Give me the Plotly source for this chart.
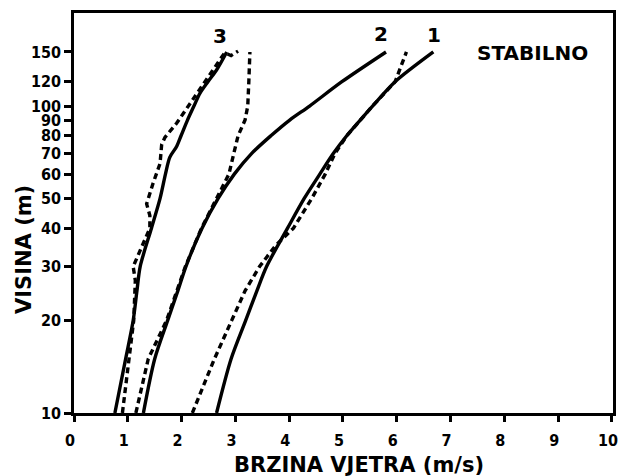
import plotly.graph_objects as go

# ---- data (wind speed m/s at height m) ----
h_std = [10, 15, 20, 25, 30, 40, 50, 60, 70, 80, 90, 100, 120, 150]

solid1 = [2.65, 2.92, 3.19, 3.40, 3.58, 3.97, 4.28, 4.57, 4.82, 5.07, 5.32, 5.55, 5.97, 6.68]
dash1_h = [10, 15, 20, 25, 30, 35, 40, 50, 60, 70, 80, 90, 100, 120, 150]
dash1 = [2.20, 2.61, 2.93, 3.18, 3.45, 3.74, 4.08, 4.42, 4.67, 4.85, 5.07, 5.32, 5.55, 5.97, 6.18]

solid2 = [1.29, 1.50, 1.74, 1.93, 2.08, 2.38, 2.68, 2.98, 3.30, 3.66, 4.01, 4.38, 4.98, 5.80]
dash2_h = [10, 15, 20, 25, 30, 40, 50, 60, 70, 80, 90, 100, 120, 150]
dash2 = [1.15, 1.38, 1.72, 1.92, 2.07, 2.37, 2.65, 2.88, 2.97, 3.05, 3.18, 3.23, 3.25, 3.27]

solid3_h = [10, 15, 20, 25, 30, 40, 50, 60, 68, 74, 80, 90, 100, 110, 120, 131, 150]
solid3 = [0.76, 0.96, 1.10, 1.17, 1.23, 1.44, 1.60, 1.70, 1.78, 1.91, 1.99, 2.11, 2.23, 2.34, 2.49, 2.65, 2.84]
dash3_h = [10, 15, 20, 27, 30, 32, 35, 40, 44, 48, 56, 65, 75, 79, 88, 102, 122, 140, 149, 146, 151]
dash3 = [0.90, 1.02, 1.11, 1.14, 1.10, 1.17, 1.27, 1.41, 1.41, 1.35, 1.47, 1.60, 1.63, 1.69, 1.91, 2.16, 2.47, 2.70, 2.80, 2.92, 3.05]

x_ticks = [0, 1, 2, 3, 4, 5, 6, 7, 8, 9, 10]
y_ticks = [10, 20, 30, 40, 50, 60, 70, 80, 90, 100, 120, 150]

LW = 3.4
fig = go.Figure()
for xs, ys in [(solid1, h_std), (solid2, h_std), (solid3, solid3_h)]:
    fig.add_trace(go.Scatter(x=xs, y=ys, mode="lines",
                             line=dict(color="black", width=LW, shape="spline", smoothing=0.8),
                             showlegend=False, hoverinfo="skip"))
for xs, ys in [(dash1, dash1_h), (dash2, dash2_h), (dash3, dash3_h)]:
    fig.add_trace(go.Scatter(x=xs, y=ys, mode="lines",
                             line=dict(color="black", width=LW, dash="6px,4px"),
                             showlegend=False, hoverinfo="skip"))

xfont = dict(family="DejaVu Sans Condensed", size=16, color="black", weight="bold")
yfont = dict(family="DejaVu Sans Condensed", size=16, color="black", weight="bold")
fig.update_xaxes(range=[0, 10.02], tickvals=x_ticks, ticktext=[str(v) for v in x_ticks],
                 showgrid=False, zeroline=False, showline=True, linecolor="black", linewidth=2.5,
                 mirror=True, ticks="outside", ticklen=6, tickwidth=2.5, tickcolor="black",
                 tickfont=xfont, automargin=False, ticklabeloverflow="allow", ticklabelstandoff=5,
                 ticklabelshift=-4)
fig.update_yaxes(type="log", range=[1, 2.303], tickvals=y_ticks, ticktext=[str(v) for v in y_ticks],
                 showgrid=False, zeroline=False, showline=True, linecolor="black", linewidth=2.5,
                 mirror=True, ticks="outside", ticklen=7, tickwidth=2.5, tickcolor="black",
                 tickfont=yfont, automargin=False, ticklabeloverflow="allow")

W, H = 618, 476
pl, pr, pt, pb = 74, W - 5, 13, H - 63

afont = dict(family="DejaVu Sans", size=20, color="black", weight="bold")
tifont = dict(family="DejaVu Sans", size=21, color="black", weight="bold")
anns = [
    ("BRZINA VJETRA (m/s)", 359, 465, 0, tifont),
    ("VISINA (m)", 24, 250, -90, tifont),
    ("1", 434, 35, 0, afont),
    ("2", 381, 34, 0, afont),
    ("3", 220, 36, 0, afont),
    ("STABILNO", 532, 53, 0, dict(family="DejaVu Sans", size=20, color="black", weight="bold")),
]
for text, px, py, ang, f in anns:
    fig.add_annotation(text=text, x=(px - pl) / (pr - pl), y=(pb - py) / (pb - pt),
                       xref="paper", yref="paper", xanchor="center", yanchor="middle",
                       showarrow=False, font=f, textangle=ang)

fig.update_layout(width=W, height=H, margin=dict(l=pl, r=W - pr, t=pt, b=H - pb, autoexpand=False),
                  plot_bgcolor="white", paper_bgcolor="white")

fig.write_html("out.html", config={"displayModeBar": False},
               post_script="document.body.style.margin='0';")
